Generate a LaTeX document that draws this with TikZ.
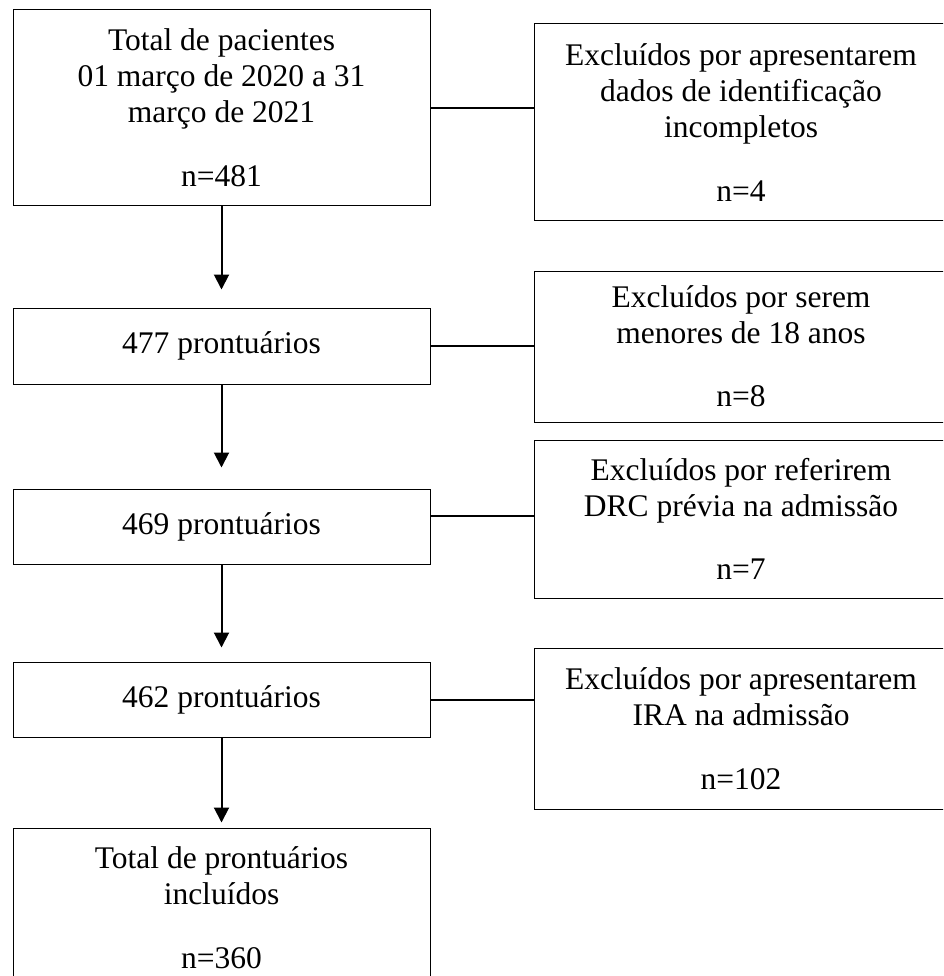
\documentclass[tikz,border=0pt]{standalone}
\usepackage{fontspec}
\setmainfont{Liberation Serif}
\usetikzlibrary{arrows.meta}

\tikzset{
    box/.style={draw, line width=1pt, align=center, inner sep=0pt,
        font=\fontsize{31.5}{36}\selectfont},
    leftbox/.style={box, minimum width=417pt},
    sidebox/.style={box, minimum width=414pt},
    flow/.style={-{Triangle[length=15pt,width=15pt]}, line width=2pt},
    joinline/.style={line width=2pt}
}

\begin{document}
\begin{tikzpicture}[x=1pt, y=-1pt]
    \useasboundingbox (0,0) rectangle (943,976);
    \clip (0,0) rectangle (943,976);
        % left column
        \node[leftbox, minimum height=196pt] (b1) at (221.5,108)
            {Total de pacientes\\01 março de 2020 a 31\\março de 2021\\[28pt]n=481};
        \node[leftbox, minimum height=76pt] (b2) at (221.5,346) {477 prontuários};
        \node[leftbox, minimum height=75pt] (b3) at (221.5,526.5) {469 prontuários};
        \node[leftbox, minimum height=75pt] (b4) at (221.5,699.5) {462 prontuários};
        \node[leftbox, minimum height=160pt] (b5) at (221.5,908)
            {Total de prontuários\\incluídos\\[28pt]n=360};
        % exclusions
        \node[sidebox, minimum height=197pt] (r1) at (741,122.5)
            {Excluídos por apresentarem\\dados de identificação\\incompletos\\[28pt]n=4};
        \node[sidebox, minimum height=151pt] (r2) at (741,346.5)
            {Excluídos por serem\\menores de 18 anos\\[27pt]n=8};
        \node[sidebox, minimum height=158pt] (r3) at (741,519)
            {Excluídos por referirem\\DRC prévia na admissão\\[27pt]n=7};
        \node[sidebox, minimum height=161pt] (r4) at (741,728.5)
            {Excluídos por apresentarem\\IRA na admissão\\[28pt]n=102};
        % arrows
        \draw[flow, shorten >=18pt] (b1) -- (b2);
        \draw[flow, shorten >=21pt] (b2) -- (b3);
        \draw[flow, shorten >=14pt] (b3) -- (b4);
        \draw[flow, shorten >=5pt] (b4) -- (b5);
        % side lines
        \draw[joinline] (b1.east) -- (b1.east -| r1.west);
        \draw[joinline] (b2.east) -- (b2.east -| r2.west);
        \draw[joinline] ([yshift=11pt]b3.east) coordinate (c3) -- (c3 -| r3.west);
        \draw[joinline] (b4.east) -- (b4.east -| r4.west);
\end{tikzpicture}
\end{document}
